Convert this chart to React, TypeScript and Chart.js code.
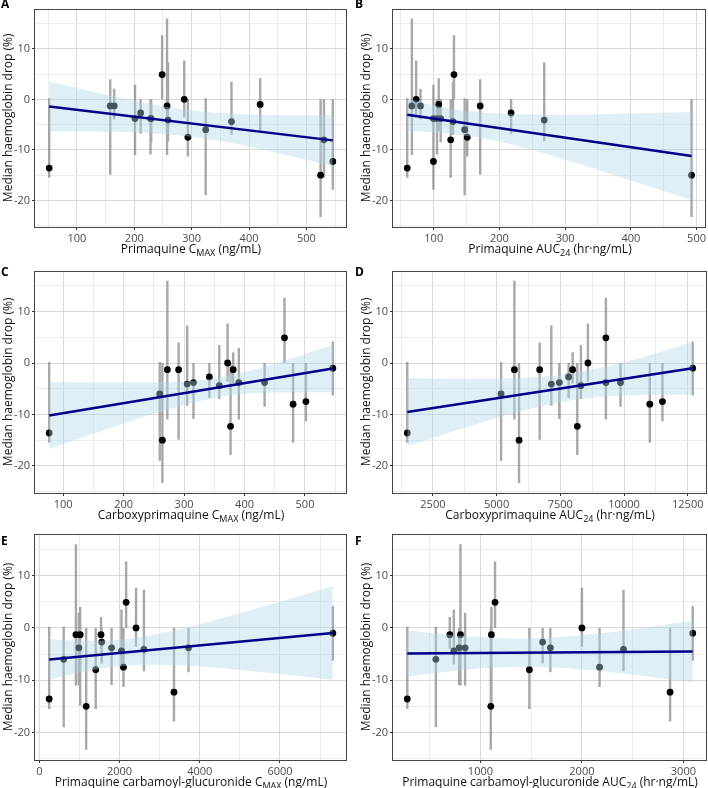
import React, { useEffect, useRef } from "react";
import { Chart, registerables } from "chart.js";
Chart.register(...registerables);

// ---- Per-subject haemoglobin drop (median, range) ----
const hbDrop = [-13.6, -6.0, -1.3, -15.0, -1.3, -4.1, -3.8, -2.7, -1.3, -12.3, -4.4, 0.0, 4.9, -3.8, -3.8, -8.0, -7.5, -1.0];
const hbLow = [-15.5, -19.0, -11.0, -23.3, -14.9, -8.3, -10.9, -6.8, -4.0, -17.9, -7.0, -3.6, 0.0, -11.0, -8.5, -15.5, -11.3, -6.3];
const hbHigh = [0.2, 0.2, 16.0, 0.0, 4.0, 7.3, 0.0, 0.0, 2.1, 0.0, 3.5, 7.7, 12.7, 2.9, 0.0, 0.0, 0.0, 4.2];

// ---- Exposure per subject (x values per panel) ----
const pqCmax = [51.7, 324.5, 257.1, 524.7, 158.1, 258.8, 228.3, 211.1, 165.0, 546.0, 369.4, 287.1, 248.5, 201.3, 229.5, 530.5, 293.4, 419.4];
const pqAuc = [59.6, 147, 66.7, 492.4, 170.7, 268.2, 105, 217.7, 79.8, 99.5, 129.3, 73.2, 130.8, 99.5, 110.6, 125.8, 151, 107.6];
const cpqCmax = [77.0, 259.8, 272.4, 264.2, 291.0, 305.2, 315.6, 341.9, 381.3, 376.9, 358.3, 372.0, 466.1, 390.6, 433.2, 480.3, 501.6, 546.0];
const cpqAuc = [1495, 5176, 5698, 5881, 6690, 7148, 7461, 7826, 7983, 8166, 8310, 8584, 9289, 9289, 9863, 11012, 11508, 12696];
const pcgCmax = [247, 609, 914, 1169, 1020, 2609, 1802, 1556, 1539, 3358, 2049, 2412, 2165, 988, 3720, 1407, 2099, 7317];
const pcgAuc = [279, 561, 803, 1102, 1108, 2410, 790, 1613, 698, 2869, 738, 2000, 1144, 849, 1689, 1482, 2174, 3092];

// ---- Fitted lines ----
const fitAx = [51.7, 546.0]; const fitAy = [-1.4, -8.12];
const fitBx = [59.6, 492.4]; const fitBy = [-3.05, -11.2];
const fitCx = [77.0, 546.0]; const fitCy = [-10.2, -1.05];
const fitDx = [1495, 12696]; const fitDy = [-9.5, -1.0];
const fitEx = [247, 7317]; const fitEy = [-6.05, -0.95];
const fitFx = [279, 3092]; const fitFy = [-4.9, -4.5];

// ---- Confidence bands ----
const bandAx = [51.7, 130, 200, 295, 380, 460, 546];
const bandAlo = [-6.35, -6.35, -6.5, -7.35, -8.9, -10.9, -13.2];
const bandAhi = [3.55, 1.45, -0.3, -2.1, -2.9, -3.1, -3.1];
const bandBx = [59.6, 100, 146, 200, 300, 400, 492.4];
const bandBlo = [-6.25, -6.5, -7.15, -8.35, -11.95, -16.05, -19.9];
const bandBhi = [0.15, -1.15, -2.25, -2.8, -3.05, -2.8, -2.5];
const bandCx = [77, 150, 250, 357, 450, 546];
const bandClo = [-16.7, -13.75, -9.85, -6.65, -5.75, -5.7];
const bandChi = [-3.7, -3.8, -3.8, -2.85, -0.15, 3.55];
const bandDx = [1495, 3500, 5500, 8000, 10000, 12696];
const bandDlo = [-16.15, -12.95, -10.0, -7.2, -6.3, -6.1];
const bandDhi = [-2.95, -3.05, -3.0, -1.95, 0.15, 4.1];
const bandEx = [247, 1200, 2054, 3000, 4000, 5000, 6000, 7317];
const bandElo = [-9.95, -8.25, -7.3, -7.05, -7.4, -8.05, -8.8, -9.9];
const bandEhi = [-2.15, -2.45, -2.2, -1.1, 0.7, 2.8, 5.0, 8.0];
const bandFx = [279, 800, 1411, 2000, 2600, 3092];
const bandFlo = [-9.35, -8.1, -7.45, -7.95, -9.2, -10.4];
const bandFhi = [-0.45, -1.5, -2.05, -1.4, 0.0, 1.4];

// ---- Ticks ----
const yMajor = [-20, -10, 0, 10];
const yMinor = [-25, -15, -5, 5, 15];
const xMajorA = [100, 200, 300, 400, 500];
const xMinorA = [50, 150, 250, 350, 450, 550];
const xMajorB = [100, 200, 300, 400, 500];
const xMinorB = [50, 150, 250, 350, 450];
const xMajorC = [100, 200, 300, 400, 500];
const xMinorC = [50, 150, 250, 350, 450, 550];
const xMajorD = [2500, 5000, 7500, 10000, 12500];
const xMinorD = [1250, 3750, 6250, 8750, 11250];
const xMajorE = [0, 2000, 4000, 6000];
const xMinorE = [1000, 3000, 5000, 7000];
const xMajorF = [1000, 2000, 3000];
const xMinorF = [500, 1500, 2500];

const yTitle = "Median haemoglobin drop (%)";

type Cfg = {
  label: string; row: number; col: number; x: number[];
  fitX: number[]; fitY: number[]; bx: number[]; blo: number[]; bhi: number[];
  major: number[]; minor: number[]; titleMain: string; titleSub: string; titleUnit: string;
};

const panels: Cfg[] = [
  { label: "A", row: 0, col: 0, x: pqCmax, fitX: fitAx, fitY: fitAy, bx: bandAx, blo: bandAlo, bhi: bandAhi, major: xMajorA, minor: xMinorA, titleMain: "Primaquine C", titleSub: "MAX", titleUnit: " (ng/mL)" },
  { label: "B", row: 0, col: 1, x: pqAuc, fitX: fitBx, fitY: fitBy, bx: bandBx, blo: bandBlo, bhi: bandBhi, major: xMajorB, minor: xMinorB, titleMain: "Primaquine AUC", titleSub: "24", titleUnit: " (hr·ng/mL)" },
  { label: "C", row: 1, col: 0, x: cpqCmax, fitX: fitCx, fitY: fitCy, bx: bandCx, blo: bandClo, bhi: bandChi, major: xMajorC, minor: xMinorC, titleMain: "Carboxyprimaquine C", titleSub: "MAX", titleUnit: " (ng/mL)" },
  { label: "D", row: 1, col: 1, x: cpqAuc, fitX: fitDx, fitY: fitDy, bx: bandDx, blo: bandDlo, bhi: bandDhi, major: xMajorD, minor: xMinorD, titleMain: "Carboxyprimaquine AUC", titleSub: "24", titleUnit: " (hr·ng/mL)" },
  { label: "E", row: 2, col: 0, x: pcgCmax, fitX: fitEx, fitY: fitEy, bx: bandEx, blo: bandElo, bhi: bandEhi, major: xMajorE, minor: xMinorE, titleMain: "Primaquine carbamoyl-glucuronide C", titleSub: "MAX", titleUnit: " (ng/mL)" },
  { label: "F", row: 2, col: 1, x: pcgAuc, fitX: fitFx, fitY: fitFy, bx: bandFx, blo: bandFlo, bhi: bandFhi, major: xMajorF, minor: xMinorF, titleMain: "Primaquine carbamoyl-glucuronide AUC", titleSub: "24", titleUnit: " (hr·ng/mL)" },
];

// ---- Layout ----
const FONT = "'Open Sans', 'DejaVu Sans', sans-serif";
const COL_LEFT = [0, 358];
const COL_W = [354, 350];
const PLOT_RIGHT = [347, 707];
const Y_AXIS_W = 35;
const ROW_TOP = [0, 262, 524];
const PLOT_TOP = [1, 267, 534];
const PLOT_H = 226;
const X_AXIS_H = 22;
const LABEL_TOP = [-2, 265.5, 534.5];
const LABEL_LEFT = [1, 355];

const MAJ_GRID = "#d9d9d9";
const MIN_GRID = "#ececec";

function expand(vals: number[]) {
  const mn = Math.min(...vals), mx = Math.max(...vals);
  const r = mx - mn;
  return [mn - 0.05 * r, mx + 0.05 * r];
}

const borderPlugin = {
  id: "panelBorder",
  afterDraw(chart: any) {
    const { left, top, right, bottom } = chart.chartArea;
    const c = chart.ctx;
    c.save();
    c.strokeStyle = "#444444";
    c.lineWidth = 1;
    c.strokeRect(Math.round(left) - 0.5, Math.round(top) + 0.5, Math.round(right - left), Math.round(bottom - top));
    c.restore();
  },
};

function makeScale(major: number[], minor: number[], min: number, max: number, isY: boolean) {
  const all = [...major, ...minor].filter((v) => v >= min && v <= max).sort((a, b) => a - b);
  const isMajor = (v: number) => major.includes(v);
  const scale: any = {
    type: "linear",
    min,
    max,
    afterBuildTicks: (s: any) => {
      s.ticks = all.map((v) => ({ value: v }));
    },
    border: { display: false },
    grid: {
      color: (ctx: any) => (ctx.tick && isMajor(ctx.tick.value) ? MAJ_GRID : MIN_GRID),
      lineWidth: 1,
      tickColor: (ctx: any) => (ctx.tick && isMajor(ctx.tick.value) ? "#333333" : "rgba(0,0,0,0)"),
      tickLength: 3,
      drawTicks: true,
    },
    ticks: {
      autoSkip: false,
      maxRotation: 0,
      minRotation: 0,
      padding: 2,
      color: "#4a4a4a",
      font: { family: FONT, size: 11 },
      callback: (v: any) => (isMajor(Number(v)) ? String(v) : ""),
    },
  };
  if (isY) {
    scale.afterFit = (s: any) => {
      s.width = Y_AXIS_W;
    };
    scale.title = {
      display: true,
      text: yTitle,
      color: "#111111",
      font: { family: FONT, size: 12 },
      padding: { top: 1, bottom: 0 },
    };
  } else {
    scale.afterFit = (s: any) => {
      s.height = X_AXIS_H;
    };
  }
  return scale;
}

function Panel({ cfg }: { cfg: Cfg }) {
  const ref = useRef<HTMLCanvasElement | null>(null);
  const left = COL_LEFT[cfg.col];
  const width = COL_W[cfg.col];
  const top = ROW_TOP[cfg.row];
  const padTop = PLOT_TOP[cfg.row] - top;
  const padRight = left + width - PLOT_RIGHT[cfg.col];
  const height = padTop + PLOT_H + X_AXIS_H;

  useEffect(() => {
    if (!ref.current) return;
    const [xMin, xMax] = expand(cfg.x);
    const [yMin, yMax] = expand([...hbLow, ...hbHigh]);
    const errData: any[] = [];
    cfg.x.forEach((xv, i) => {
      errData.push({ x: xv, y: hbLow[i] });
      errData.push({ x: xv, y: hbHigh[i] });
      errData.push({ x: xv, y: null });
    });
    const pts = cfg.x.map((xv, i) => ({ x: xv, y: hbDrop[i] }));
    const upper = cfg.bx.map((xv, i) => ({ x: xv, y: cfg.bhi[i] }));
    const lower = cfg.bx.map((xv, i) => ({ x: xv, y: cfg.blo[i] }));
    const fit = cfg.fitX.map((xv, i) => ({ x: xv, y: cfg.fitY[i] }));

    const chart = new Chart(ref.current, {
      type: "scatter",
      data: {
        datasets: [
          {
            type: "line",
            data: errData,
            borderColor: "rgba(115,115,115,0.62)",
            borderWidth: 2.4,
            borderCapStyle: "butt",
            pointRadius: 0,
            spanGaps: false,
            fill: false,
            order: 4,
          } as any,
          {
            type: "scatter",
            data: pts,
            backgroundColor: "#000000",
            borderWidth: 0,
            pointRadius: 3.4,
            order: 3,
          } as any,
          {
            type: "line",
            data: upper,
            borderColor: "rgba(0,0,0,0)",
            borderWidth: 0,
            pointRadius: 0,
            fill: "+1",
            backgroundColor: "rgba(173,216,230,0.4)",
            cubicInterpolationMode: "monotone",
            order: 2,
          } as any,
          {
            type: "line",
            data: lower,
            borderColor: "rgba(0,0,0,0)",
            borderWidth: 0,
            pointRadius: 0,
            fill: false,
            cubicInterpolationMode: "monotone",
            order: 2,
          } as any,
          {
            type: "line",
            data: fit,
            borderColor: "#00008B",
            borderWidth: 2.5,
            pointRadius: 0,
            fill: false,
            order: 1,
          } as any,
        ],
      },
      options: {
        responsive: false,
        animation: false,
        devicePixelRatio: 1,
        events: [],
        layout: { padding: { top: padTop, right: padRight, left: 0, bottom: 0 }, autoPadding: false },
        plugins: { legend: { display: false }, tooltip: { enabled: false } },
        scales: {
          x: makeScale(cfg.major, cfg.minor, xMin, xMax, false),
          y: makeScale(yMajor, yMinor, yMin, yMax, true),
        },
      } as any,
      plugins: [borderPlugin],
    });
    return () => chart.destroy();
  }, []);

  const plotLeft = left + Y_AXIS_W;
  const plotW = PLOT_RIGHT[cfg.col] - plotLeft;
  const plotBottom = PLOT_TOP[cfg.row] + PLOT_H;

  return (
    <>
      <canvas
        ref={ref}
        width={width}
        height={height}
        style={{ position: "absolute", left, top, width, height, display: "block" }}
      />
      <div
        style={{
          position: "absolute",
          left: LABEL_LEFT[cfg.col],
          top: LABEL_TOP[cfg.row],
          fontFamily: FONT,
          fontWeight: 700,
          fontSize: 12,
          lineHeight: "12px",
          color: "#000",
        }}
      >
        {cfg.label}
      </div>
      <div
        style={{
          position: "absolute",
          left: plotLeft,
          width: plotW,
          top: plotBottom + 15,
          height: 16,
          textAlign: "center",
          fontFamily: FONT,
          fontSize: 12,
          lineHeight: "14px",
          color: "#111",
          whiteSpace: "nowrap",
        }}
      >
        {cfg.titleMain}
        <sub style={{ fontSize: "75%", verticalAlign: "-0.3em", lineHeight: 0 }}>{cfg.titleSub}</sub>
        {cfg.titleUnit}
      </div>
    </>
  );
}

export default function App() {
  return (
    <div
      style={{
        position: "absolute",
        left: 0,
        top: 0,
        width: 708,
        height: 788,
        background: "#ffffff",
        overflow: "hidden",
      }}
    >
      {panels.map((p) => (
        <Panel key={p.label} cfg={p} />
      ))}
    </div>
  );
}
